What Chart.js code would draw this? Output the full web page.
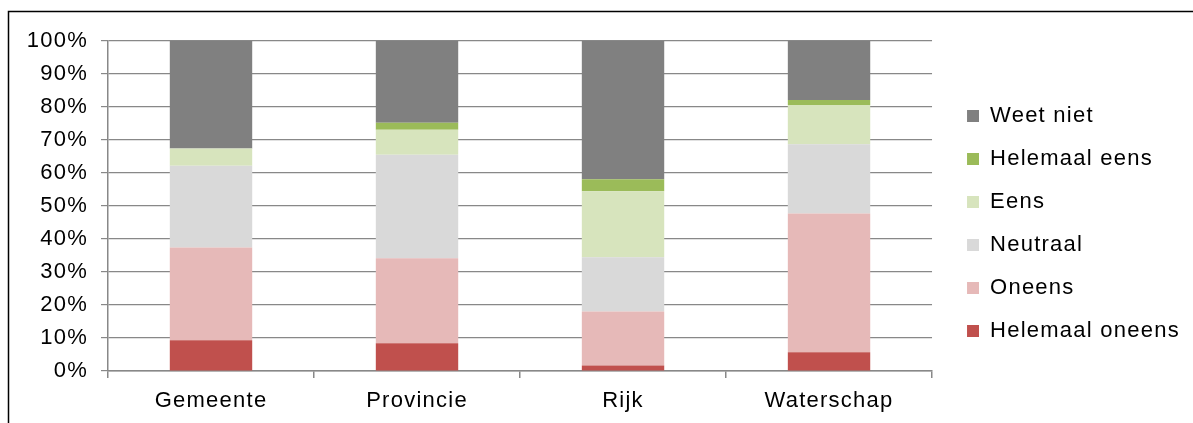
<!DOCTYPE html>
<html>
<head>
<meta charset="utf-8">
<script src="https://cdn.jsdelivr.net/npm/chart.js@4/dist/chart.umd.min.js"></script>
<style>
    html, body { margin: 0; padding: 0; background: #fff; }
    #wrap { width: 1193px; height: 423px; position: relative; }
</style>
</head>
<body>
<div id="wrap"><canvas id="chart"></canvas></div>
<script>
// Data (percentages)
const categories = ['Gemeente', 'Provincie', 'Rijk', 'Waterschap'];
const helemaalOneens = [9.3, 8.4, 1.7, 5.7];
const oneens = [28.1, 25.8, 16.3, 42.0];
const neutraal = [24.8, 31.3, 16.5, 21.0];
const eens = [5.2, 7.6, 20.0, 11.9];
const helemaalEens = [0, 2.1, 3.6, 1.5];
const weetNiet = [32.6, 24.8, 41.9, 17.9];
const yTicks = [0, 10, 20, 30, 40, 50, 60, 70, 80, 90, 100];

const FONT = "'Liberation Sans', Arial, sans-serif";
const GRID = '#888888';
const SPACING = '1.25px';

// Black frame round the chart (only left and top show in the picture)
// and a bit of letter spacing so the text is as wide as in the original.
const framePlugin = {
    id: 'frame',
    beforeLayout(chart) {
        chart.ctx.letterSpacing = SPACING;
    },
    beforeDraw(chart) {
        const ctx = chart.ctx;
        ctx.letterSpacing = SPACING;
        ctx.save();
        ctx.strokeStyle = '#000';
        ctx.lineWidth = 1.5;
        ctx.beginPath();
        ctx.moveTo(8.5, chart.height + 5);
        ctx.lineTo(8.5, 11.5);
        ctx.lineTo(chart.width + 5, 11.5);
        ctx.stroke();
        ctx.restore();
    }
};

function series(label, data, color) {
    return {
        label,
        data,
        backgroundColor: color,
        borderWidth: 0,
        categoryPercentage: 1,
        barPercentage: 0.4
    };
}

new Chart(document.getElementById('chart'), {
    type: 'bar',
    data: {
        labels: categories,
        datasets: [
            series('Helemaal oneens', helemaalOneens, '#C0504D'),
            series('Oneens', oneens, '#E6B9B8'),
            series('Neutraal', neutraal, '#D9D9D9'),
            series('Eens', eens, '#D7E4BD'),
            series('Helemaal eens', helemaalEens, '#9BBB59'),
            series('Weet niet', weetNiet, '#808080')
        ]
    },
    options: {
        responsive: true,
        maintainAspectRatio: false,
        animation: false,
        layout: { padding: { top: 41, bottom: 0, left: 0, right: 3 } },
        plugins: {
            title: { display: false },
            tooltip: { enabled: false },
            legend: {
                position: 'right',
                align: 'start',
                reverse: true,
                // empty title, only used to push the items down
                title: {
                    display: true,
                    text: '',
                    font: { size: 10 },
                    padding: { top: 31, bottom: 0 }
                },
                labels: {
                    boxWidth: 12,
                    boxHeight: 12,
                    padding: 21,
                    color: '#000',
                    font: { family: FONT, size: 22 }
                }
            }
        },
        scales: {
            x: {
                stacked: true,
                afterFit: (scale) => { scale.height = 52; },
                grid: {
                    offset: true,
                    drawOnChartArea: false,
                    drawTicks: true,
                    tickLength: 7,
                    color: GRID,
                    lineWidth: 1.5
                },
                border: { color: GRID, width: 1.5 },
                ticks: {
                    color: '#000',
                    padding: 10,
                    font: { family: FONT, size: 22 }
                }
            },
            y: {
                stacked: true,
                min: 0,
                max: 100,
                afterBuildTicks: (scale) => {
                    scale.ticks = yTicks.map(v => ({ value: v }));
                },
                afterFit: (scale) => { scale.width = 108; },
                grid: {
                    color: GRID,
                    lineWidth: 1.2,
                    tickLength: 7
                },
                border: { color: GRID, width: 1.5 },
                ticks: {
                    color: '#000',
                    padding: 13,
                    font: { family: FONT, size: 22 },
                    callback: (v) => v + '%'
                }
            },
            // empty spacer between the plot and the legend
            gap: {
                position: 'right',
                display: false,
                afterFit: (scale) => { scale.width = 14; }
            }
        }
    },
    plugins: [framePlugin]
});
</script>
</body>
</html>
